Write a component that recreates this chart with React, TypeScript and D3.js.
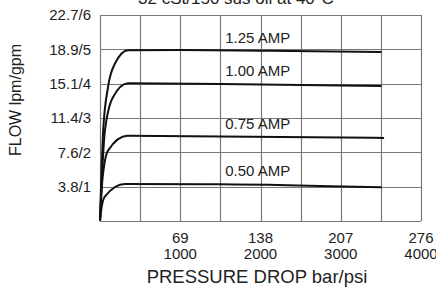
import React from "react";
import * as d3 from "d3";

// pressure drop in psi, flow in gpm
const ampLabels = ["1.25 AMP", "1.00 AMP", "0.75 AMP", "0.50 AMP"];
const curve125: [number, number][] = [
  [0, 0], [40, 2.65], [100, 3.9], [190, 4.6], [350, 4.97], [1000, 4.98], [2000, 4.96], [3510, 4.92],
];
const curve100: [number, number][] = [
  [0, 0], [60, 2.6], [160, 3.6], [350, 4.01], [1500, 3.99], [3510, 3.93],
];
const curve075: [number, number][] = [
  [0, 0], [30, 1.2], [100, 2.05], [340, 2.48], [1500, 2.46], [3540, 2.42],
];
const curve050: [number, number][] = [
  [0, 0], [20, 0.4], [62, 0.72], [310, 1.08], [1500, 1.07], [3510, 0.98],
];
const yTickLabels = ["3.8/1", "7.6/2", "11.4/3", "15.1/4", "18.9/5", "22.7/6"];
const xTickBar = ["69", "138", "207", "276"];
const xTickPsi = ["1000", "2000", "3000", "4000"];
const gridPsi = [0, 500, 1000, 1500, 2000, 2500, 3000, 3500, 4000];
const gridGpm = [0, 1, 2, 3, 4, 5, 6];
const labelPsi = 1560;

const W = 436;
const H = 289;
const font = "'Liberation Sans', Arial, Helvetica, sans-serif";

export default function App() {
  const xs = d3.scaleLinear().domain([0, 4000]).range([100, 421]);
  const ys = d3.scaleLinear().domain([0, 6]).range([221, 15]);

  const lineGen = d3
    .line<[number, number]>()
    .x((d) => xs(d[0]))
    .y((d) => ys(d[1]))
    .curve(d3.curveMonotoneX);

  const curves = [curve125, curve100, curve075, curve050];

  return (
    <svg width={W} height={H} style={{ position: "absolute", left: 0, top: 0, background: "#fff" }}>
      <text x={236} y={4} textAnchor="middle" fontFamily={font} fontSize={17} fill="#222">
        32 cSt/150 sus oil at 40°C
      </text>
      {/* grid */}
      {gridPsi.map((v) => (
        <line
          key={"gx" + v}
          x1={Math.round(xs(v)) + 0.5}
          x2={Math.round(xs(v)) + 0.5}
          y1={ys(0)}
          y2={ys(6)}
          stroke="#777"
          strokeWidth={1.2}
        />
      ))}
      {gridGpm.map((v) => (
        <line
          key={"gy" + v}
          x1={xs(0)}
          x2={xs(4000)}
          y1={Math.round(ys(v)) + 0.5}
          y2={Math.round(ys(v)) + 0.5}
          stroke="#777"
          strokeWidth={1.2}
        />
      ))}
      {curves.map((c, i) => (
        <path key={"c" + i} d={lineGen(c) || ""} fill="none" stroke="#111" strokeWidth={2} />
      ))}
      <g fontFamily={font} fontSize={15} fill="#222">
        {curves.map((c, i) => (
          <text key={i} x={xs(labelPsi)} y={ys(c[c.length - 2][1]) - 8}>
            {ampLabels[i]}
          </text>
        ))}
      </g>
      <g fontFamily={font} fontSize={15} fill="#222" textAnchor="end">
        {yTickLabels.map((t, i) => (
          <text key={t} x={91} y={ys(i + 1)} dy="0.36em">
            {t}
          </text>
        ))}
      </g>
      <g fontFamily={font} fontSize={15} fill="#222" textAnchor="middle">
        {xTickPsi.map((t, i) => (
          <g key={t}>
            <text x={xs(+t)} y={243}>
              {xTickBar[i]}
            </text>
            <text x={xs(+t)} y={259}>
              {t}
            </text>
          </g>
        ))}
      </g>
      <text x={257} y={283} textAnchor="middle" fontFamily={font} fontSize={18.5} fill="#222">
        PRESSURE DROP bar/psi
      </text>
      <text
        transform={`translate(21, ${100}) rotate(-90)`}
        textAnchor="middle"
        fontFamily={font}
        fontSize={16}
        fill="#222"
      >
        FLOW lpm/gpm
      </text>
    </svg>
  );
}
